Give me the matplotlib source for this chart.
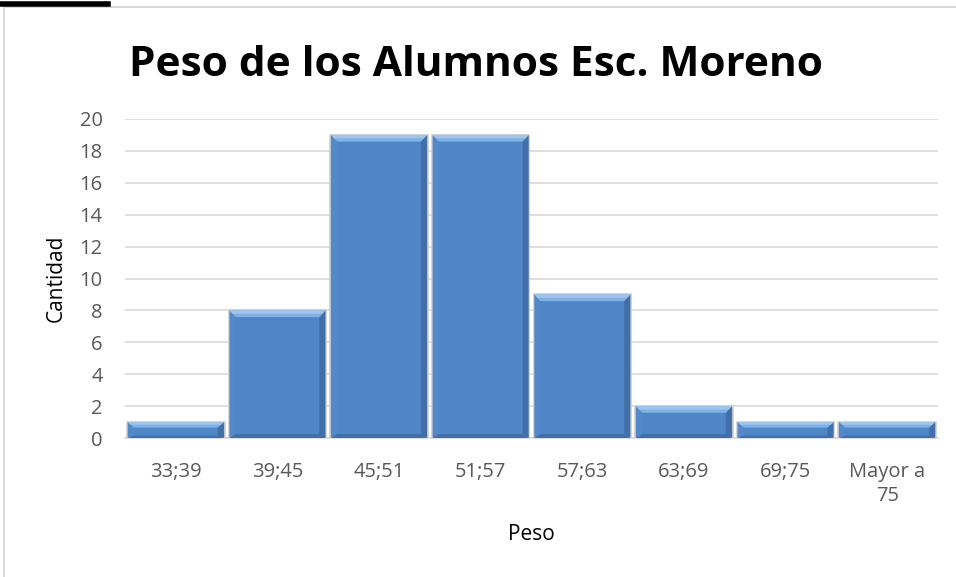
import matplotlib
matplotlib.use("Agg")
import matplotlib.pyplot as plt
from matplotlib.patches import Rectangle, Polygon
from matplotlib.lines import Line2D

# Frecuencias de peso por intervalo
categorias = ["33;39", "39;45", "45;51", "51;57", "57;63", "63;69", "69;75", "Mayor a\n75"]
cantidad = [1, 8, 19, 19, 9, 2, 1, 1]
yticks = list(range(0, 21, 2))

plt.rcParams["font.family"] = ["Open Sans", "DejaVu Sans"]

fig = plt.figure(figsize=(9.56, 5.77), dpi=100)
ax = fig.add_axes([125 / 956, 1 - 438 / 577, 813 / 956, 319 / 577])

# chart frame (cropped at right/bottom)
fig.add_artist(Rectangle((4 / 956, -0.05), 1.0, 1 - 7 / 577 + 0.05, transform=fig.transFigure,
                         fill=False, edgecolor="#d9d9d9", linewidth=1.5))
fig.add_artist(Line2D([0, 108 / 956], [1 - 4 / 577] * 2, transform=fig.transFigure,
                      color="black", linewidth=4))

ancho = 0.96
x = list(range(len(categorias)))
ax.bar(x, cantidad, width=ancho, color="#4f86c8", edgecolor="#d0d0d0", linewidth=1.2, zorder=3)

# bevel effect: light top facet, slightly darker sides and base
dx = 0.06
for i, h in zip(x, cantidad):
    dy = min(0.42, h * 0.35)
    db = min(0.25, h * 0.15)
    l, r = i - ancho / 2 + 0.008, i + ancho / 2 - 0.008
    top = [(l, h), (r, h), (r - dx, h - dy), (l + dx, h - dy)]
    top2 = [(l, h), (r, h), (r - dx / 2, h - dy / 2), (l + dx / 2, h - dy / 2)]
    bot = [(l, 0), (r, 0), (r - dx, db), (l + dx, db)]
    izq = [(l, 0), (l, h), (l + dx, h - dy), (l + dx, db)]
    der = [(r, 0), (r, h), (r - dx, h - dy), (r - dx, db)]
    ax.add_patch(Polygon(izq, closed=True, color="#5489c9", lw=0, zorder=4))
    ax.add_patch(Polygon(der, closed=True, color="#426fa8", lw=0, zorder=4))
    ax.add_patch(Polygon(bot, closed=True, color="#446fa6", lw=0, zorder=4))
    ax.add_patch(Polygon(top, closed=True, color="#7fb0e6", lw=0, zorder=4))
    ax.add_patch(Polygon(top2, closed=True, color="#9cc6f0", lw=0, zorder=4))

ax.set_xlim(-0.5, len(categorias) - 0.5)
ax.set_ylim(0, 20)
ax.set_yticks(yticks)
ax.set_xticks(x)
ax.set_xticklabels(categorias, linespacing=1.3)
ax.tick_params(axis="both", length=0, labelsize=14.5, colors="#595959")
ax.tick_params(axis="y", pad=16)
ax.tick_params(axis="x", pad=17)
ax.yaxis.grid(True, color="#d9d9d9", linewidth=1.2, zorder=0)
for side in ["top", "right", "left"]:
    ax.spines[side].set_visible(False)
ax.spines["bottom"].set_color("#d9d9d9")
ax.spines["bottom"].set_linewidth(1.2)

ax.set_xlabel("Peso", fontsize=15, color="black")
ax.xaxis.set_label_coords(0.5, -0.27)
ax.set_ylabel("Cantidad", fontsize=15, color="black")
ax.yaxis.set_label_coords(-0.072, 0.5)
fig.text(476 / 956, 1 - 65 / 577, "Peso de los Alumnos Esc. Moreno", fontsize=30.5,
         fontweight="bold", ha="center", va="center", color="black")

fig.savefig("out.png", dpi=100)
